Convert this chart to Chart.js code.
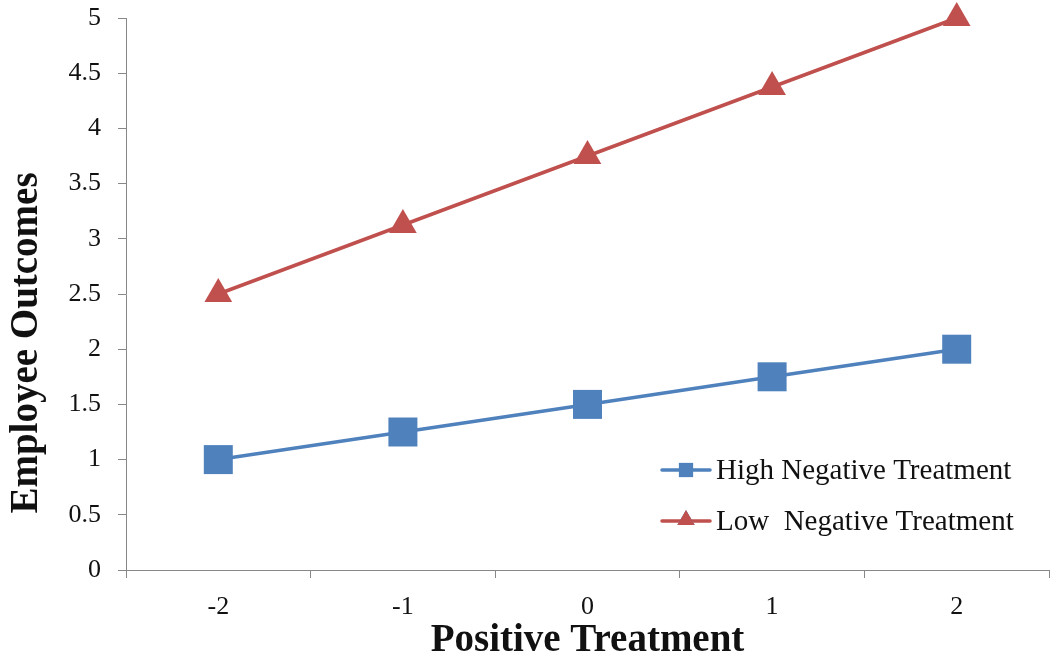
<!DOCTYPE html>
<html>
<head>
<meta charset="utf-8">
<script src="https://cdn.jsdelivr.net/npm/chart.js@4/dist/chart.umd.min.js"></script>
<style>
  html, body { margin: 0; padding: 0; background: #fff; }
  #wrap { width: 1054px; height: 660px; }
</style>
</head>
<body>
<div id="wrap"><canvas id="plot"></canvas></div>
<script>
const categories = ['-2', '-1', '0', '1', '2'];
const highNegative = [1, 1.25, 1.5, 1.75, 2];
const lowNegative = [2.5, 3.125, 3.75, 4.375, 5];
const seriesNames = ['High Negative Treatment', 'Low  Negative Treatment'];
const yTitle = 'Employee Outcomes';
const xTitle = 'Positive Treatment';

const serif = "'Liberation Serif', 'Times New Roman', serif";

// legend drawn inside the plot (lower right) + y title placed like the original
const extras = {
  id: 'extras',
  afterDraw(chart) {
    const ctx = chart.ctx;
    const rows = [470, 521];
    chart.data.datasets.forEach((ds, i) => {
      const y = rows[i];
      ctx.save();
      ctx.strokeStyle = ds.borderColor;
      ctx.lineWidth = 3.5;
      ctx.lineCap = 'round';
      ctx.beginPath();
      ctx.moveTo(662, y);
      ctx.lineTo(710, y);
      ctx.stroke();
      Chart.helpers.drawPoint(ctx, {
        pointStyle: ds.pointStyle,
        radius: 10,
        rotation: 0,
        borderWidth: 0
      }, 686, ds.pointStyle === 'rect' ? y : y - 1);
      ctx.fillStyle = ds.backgroundColor;
      ctx.fill();
      ctx.fillStyle = '#111';
      ctx.font = '29px ' + serif;
      ctx.textBaseline = 'middle';
      ctx.fillText(ds.label, 716, y + 1);
      ctx.restore();
    });

    ctx.save();
    ctx.translate(27, 343);
    ctx.rotate(-Math.PI / 2);
    ctx.fillStyle = '#111';
    ctx.font = 'bold 39px ' + serif;
    ctx.textAlign = 'center';
    ctx.textBaseline = 'middle';
    ctx.fillText(yTitle, 0, 0);
    ctx.restore();
  }
};

new Chart(document.getElementById('plot'), {
  type: 'line',
  data: {
    labels: categories,
    datasets: [{
      label: seriesNames[0],
      data: highNegative,
      borderColor: '#4F81BD',
      backgroundColor: '#4F81BD',
      borderWidth: 3.5,
      pointStyle: 'rect',
      pointRadius: 20.5,
      pointBorderWidth: 0,
      clip: false,
      tension: 0
    }, {
      label: seriesNames[1],
      data: lowNegative,
      borderColor: '#C0504D',
      backgroundColor: '#C0504D',
      borderWidth: 3.5,
      pointStyle: 'triangle',
      pointRadius: 16,
      pointBorderWidth: 0,
      clip: false,
      tension: 0
    }]
  },
  options: {
    responsive: true,
    maintainAspectRatio: false,
    animation: false,
    layout: { autoPadding: false, padding: { top: 18, right: 5, left: 0, bottom: 0 } },
    plugins: {
      legend: { display: false },
      tooltip: { enabled: false }
    },
    scales: {
      x: {
        offset: true,
        grid: { offset: true, drawOnChartArea: false, tickLength: 8, color: '#888' },
        border: { color: '#888', width: 1 },
        ticks: { color: '#111', font: { family: serif, size: 26 }, padding: 14 },
        title: {
          display: true,
          text: xTitle,
          color: '#111',
          font: { family: serif, size: 39, weight: 'bold' },
          padding: { top: 0, bottom: -4 }
        },
        afterFit(scale) {
          scale.height = 90;
          scale.paddingLeft = 0;
          scale.paddingRight = 0;
        }
      },
      y: {
        min: 0,
        max: 5,
        ticks: {
          stepSize: 0.5,
          color: '#111',
          font: { family: serif, size: 26 },
          padding: 17,
          callback: v => String(v)
        },
        grid: { drawOnChartArea: false, tickLength: 8, color: '#888' },
        border: { color: '#888', width: 1 },
        afterFit(scale) {
          scale.width = 126;
          scale.paddingTop = 0;
          scale.paddingBottom = 0;
        }
      }
    }
  },
  plugins: [extras]
});
</script>
</body>
</html>
